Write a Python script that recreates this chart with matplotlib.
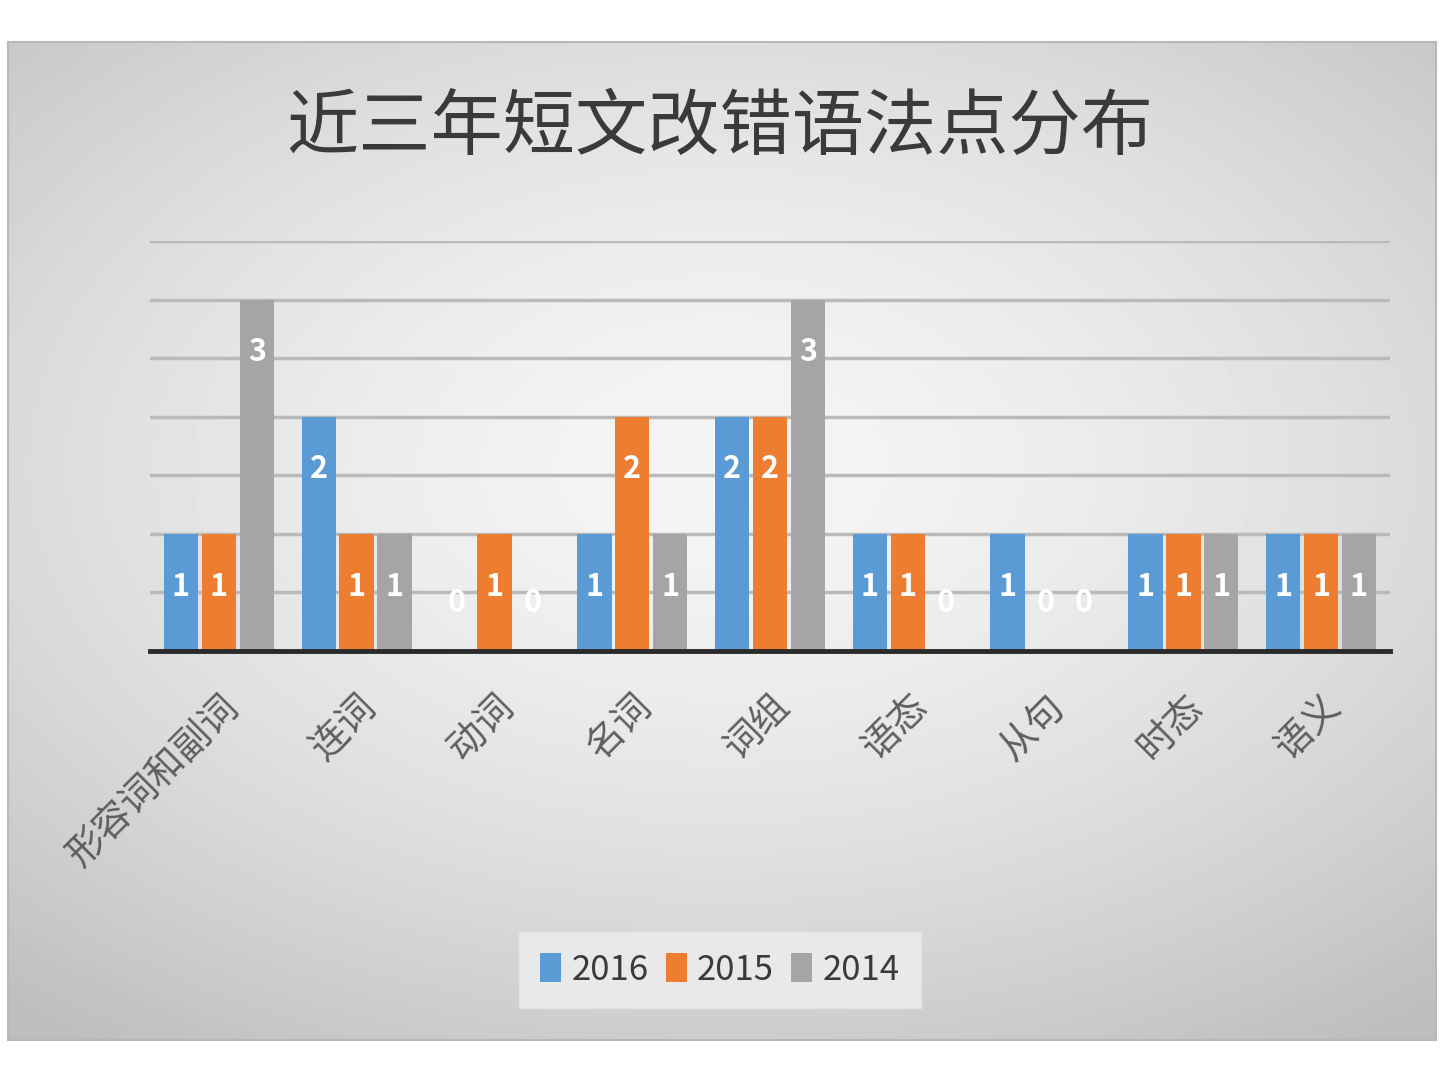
import numpy as np
import matplotlib.pyplot as plt

plt.rcParams['font.family'] = ['Noto Sans CJK SC', 'DejaVu Sans']

categories = ['形容词和副词', '连词', '动词', '名词', '词组', '语态', '从句', '时态', '语义']
years = ['2016', '2015', '2014']
v2016 = [1, 2, 0, 1, 2, 1, 1, 1, 1]
v2015 = [1, 1, 1, 2, 2, 1, 0, 1, 1]
v2014 = [3, 1, 0, 1, 3, 0, 0, 1, 1]
colors = ['#5B9BD5', '#ED7D31', '#A5A5A5']

fig = plt.figure(figsize=(14.4, 10.8), dpi=100)
fig.patch.set_facecolor('white')

# gradient chart area background
bg = fig.add_axes([8/1440, 1 - 1040/1080, 1428/1440, 998/1080])
yy, xx = np.mgrid[-1:1:300j, -1:1:400j]
r = np.sqrt((xx * 0.9)**2 + ((yy + 0.15) * 1.0)**2)
bg.imshow(0.96 - 0.125 * np.clip(r, 0, 1.4)**1.6, cmap='gray', vmin=0, vmax=1,
          aspect='auto', extent=[0, 1, 0, 1])
bg.set_xlim(0, 1)
bg.set_ylim(0, 1)
for s in bg.spines.values():
    s.set_color('#b8b8b8')
    s.set_linewidth(1.5)
bg.set_xticks([])
bg.set_yticks([])

ax = fig.add_axes([150/1440, 1 - 651/1080, 1240/1440, 410/1080])
ax.patch.set_alpha(0)

x = np.arange(len(categories))
width = 0.25
step = 0.275
series = [v2016, v2015, v2014]
for i, vals in enumerate(series):
    pos = x + (i - 1) * step
    ax.bar(pos, vals, width, color=colors[i], label=years[i], zorder=3)
    for p, v in zip(pos, vals):
        ypos = v - 0.45 if v > 0 else 0.41
        ax.text(p, ypos, str(v), ha='center', va='center', color='white',
                fontsize=22, fontweight='bold', zorder=4)

ax.set_xlim(-0.5, len(categories) - 0.5)
ax.set_ylim(0, 3.5)
ax.set_yticks(np.arange(0.5, 3.51, 0.5))
ax.yaxis.grid(True, color='#bababa', linewidth=2.5, zorder=0)
ax.tick_params(axis='y', length=0, labelleft=False)
ax.tick_params(axis='x', length=0, pad=26)
for side in ['top', 'right', 'left']:
    ax.spines[side].set_visible(False)
ax.spines['bottom'].set_color('#2a2a2a')
ax.spines['bottom'].set_linewidth(3.5)
ax.spines['bottom'].set_zorder(5)
ax.set_xticks(x)
ax.set_xticklabels(categories, rotation=45, ha='right', va='top',
                   rotation_mode='anchor', fontsize=27, color='#5e5e5e')

fig.text(0.5, 1 - 128/1080, '近三年短文改错语法点分布', ha='center', va='center',
         fontsize=52, color='#3a3a3a')

leg = ax.legend(loc='center', bbox_to_anchor=(0.5, 1 - 970/1080),
                bbox_transform=fig.transFigure, ncol=3, fontsize=25,
                frameon=True, fancybox=False, handlelength=0.6, handleheight=0.9,
                handletextpad=0.3, columnspacing=0.5, borderpad=0.6)
leg.get_frame().set_facecolor('#ececec')
leg.get_frame().set_edgecolor('#e4e4e4')
leg.get_frame().set_alpha(0.9)
for t in leg.get_texts():
    t.set_color('#3a3a3a')

fig.savefig('out.png', dpi=100, facecolor='white')
